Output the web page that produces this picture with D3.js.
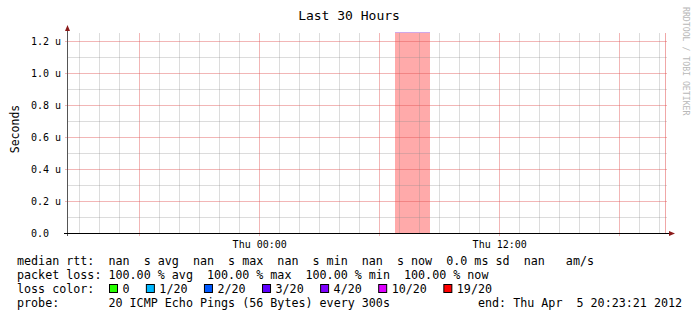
<!DOCTYPE html>
<html>
<head>
<meta charset="utf-8">
<script src="https://cdn.jsdelivr.net/npm/d3@7"></script>
<style>
  body { margin: 0; background: #fff; }
  svg text { font-family: "DejaVu Sans Mono", monospace; white-space: pre; }
</style>
</head>
<body>
<div id="chart"></div>
<script>
// chart data
let title = "Last 30 Hours";
let yLabel = "Seconds";
let startTime = new Date(2012, 3, 4, 14, 23, 21);
let endTime = new Date(2012, 3, 5, 20, 23, 21);
let yMax = 1.25e-6;
let yTicks = [0, 0.2e-6, 0.4e-6, 0.6e-6, 0.8e-6, 1.0e-6, 1.2e-6];
let outageStart = [new Date(2012, 3, 5, 6, 48)];
let outageEnd = [new Date(2012, 3, 5, 8, 33)];
let lastUpdate = new Date(2012, 3, 5, 20, 18, 21);

let rttNames = ["avg", "max", "min", "now"];
let rttValues = ["nan", "nan", "nan", "nan"];
let rttSd = "0.0 ms sd  nan   am/s";
let lossNames = ["avg", "max", "min", "now"];
let lossValues = [100, 100, 100, 100];
let lossLabels = ["0", "1/20", "2/20", "3/20", "4/20", "10/20", "19/20"];
let lossColors = ["#26ff00", "#00b8ff", "#0059ff", "#5e00ff", "#7e00ff", "#dd00ff", "#ff0000"];
let probeText = "probe:       20 ICMP Echo Pings (56 Bytes) every 300s";
let endText = "end: Thu Apr  5 20:23:21 2012";

let W = 697, H = 321;
let pL = 67, pR = 667, pT = 33, pB = 233;

let svg = d3.select('#chart')
  .append('svg')
  .attr('width', W)
  .attr('height', H)
  .style('background', '#fff');

let xS = d3.scaleTime().domain([startTime, endTime]).range([pL, pR]);
let yS = d3.scaleLinear().domain([0, yMax]).range([pB, pT]);

// outage area
svg.selectAll('rect.outage')
  .data(outageStart)
  .enter()
  .append('rect')
  .attr('class', 'outage')
  .attr('x', (d, i) => Math.round(xS(d)))
  .attr('y', pT)
  .attr('width', (d, i) => Math.round(xS(outageEnd[i])) - Math.round(xS(d)))
  .attr('height', pB - pT)
  .style('fill', '#ffaaaa');
svg.selectAll('line.outtop')
  .data(outageStart)
  .enter()
  .append('line')
  .attr('x1', d => Math.round(xS(d)))
  .attr('x2', (d, i) => Math.round(xS(outageEnd[i])))
  .attr('y1', pT - 0.5).attr('y2', pT - 0.5)
  .style('stroke', '#cfa8e8');

// grid
let minorCol = 'rgba(140,140,140,0.30)', majorCol = 'rgba(225,80,80,0.42)';
let hours = d3.timeHour.every(1).range(startTime, endTime);
svg.selectAll('line.vmin')
  .data(hours.filter(d => d.getHours() % 6 != 0))
  .enter().append('line')
  .attr('x1', d => Math.round(xS(d)) + 0.5).attr('x2', d => Math.round(xS(d)) + 0.5)
  .attr('y1', pT).attr('y2', pB)
  .style('stroke', minorCol);
svg.selectAll('line.vmaj')
  .data(hours.filter(d => d.getHours() % 6 == 0))
  .enter().append('line')
  .attr('x1', d => Math.round(xS(d)) + 0.5).attr('x2', d => Math.round(xS(d)) + 0.5)
  .attr('y1', pT).attr('y2', pB + 3)
  .style('stroke', majorCol);

let minorY = d3.range(1, 13).map(i => i * 0.1e-6).filter(v => v < yMax);
svg.selectAll('line.hmin')
  .data(minorY.filter((v, i) => i % 2 == 0))
  .enter().append('line')
  .attr('x1', pL).attr('x2', pR)
  .attr('y1', d => Math.round(yS(d)) + 0.5).attr('y2', d => Math.round(yS(d)) + 0.5)
  .style('stroke', minorCol);
svg.selectAll('line.hmaj')
  .data(yTicks.slice(1))
  .enter().append('line')
  .attr('x1', pL - 2).attr('x2', pR)
  .attr('y1', d => Math.round(yS(d)) + 0.5).attr('y2', d => Math.round(yS(d)) + 0.5)
  .style('stroke', majorCol);

// last update rule
svg.append('line')
  .attr('x1', Math.round(xS(lastUpdate)) + 0.5).attr('x2', Math.round(xS(lastUpdate)) + 0.5)
  .attr('y1', pT).attr('y2', pB)
  .style('stroke', 'rgba(225,80,80,0.5)');

// axes
svg.append('line')
  .attr('x1', pL + 0.5).attr('x2', pL + 0.5)
  .attr('y1', pB + 3).attr('y2', pT - 3)
  .style('stroke', '#555');
svg.append('line')
  .attr('x1', pL - 3).attr('x2', pR + 3)
  .attr('y1', pB + 0.5).attr('y2', pB + 0.5)
  .style('stroke', '#000');
svg.append('path')
  .attr('d', `M${pL - 2},${pT - 2} L${pL + 0.5},${pT - 8} L${pL + 3},${pT - 2} Z`)
  .style('fill', '#8b1a1a');
svg.append('path')
  .attr('d', `M${pR + 2},${pB - 2} L${pR + 8},${pB + 0.5} L${pR + 2},${pB + 3} Z`)
  .style('fill', '#8b1a1a');

// tick labels
svg.selectAll('text.ylab')
  .data(yTicks)
  .enter().append('text')
  .attr('x', 61)
  .attr('y', d => yS(d) + 3.5)
  .attr('text-anchor', 'end')
  .style('font-size', '10px')
  .text(d => (d * 1e6).toFixed(1) + (d == 0 ? '  ' : ' u'));

let fmt = d3.timeFormat('%a %H:%M');
svg.selectAll('text.xlab')
  .data(hours.filter(d => d.getHours() % 12 == 0))
  .enter().append('text')
  .attr('x', d => xS(d) + 0.5)
  .attr('y', pB + 15)
  .attr('text-anchor', 'middle')
  .style('font-size', '10px')
  .text(d => fmt(d));

// title, axis label, watermark
svg.append('text')
  .attr('x', 349).attr('y', 20)
  .attr('text-anchor', 'middle')
  .style('font-size', '13px')
  .text(title);
svg.append('text')
  .attr('transform', 'translate(19,' + 129 + ') rotate(-90)')
  .attr('text-anchor', 'middle')
  .style('font-size', '11.5px')
  .text(yLabel);
svg.append('text')
  .attr('transform', 'translate(683,7) rotate(90)')
  .style('font-size', '8.2px')
  .style('fill', '#b8b8b8')
  .text('RRDTOOL / TOBI OETIKER');

// legend
let lx = 17, fs = '11.7px', cw = 7.07;
let row1 = 'median rtt:  ' + rttValues.map((v, i) => v + '  s ' + rttNames[i]).join('  ') + '  ' + rttSd;
let row2 = 'packet loss: ' + lossValues.map((v, i) => v.toFixed(2) + ' % ' + lossNames[i]).join('  ');
[row1, row2].forEach((t, i) => {
  svg.append('text')
    .attr('x', lx).attr('y', 265 + i * 14)
    .style('font-size', fs)
    .text(t);
});
svg.append('text')
  .attr('x', lx).attr('y', 293)
  .style('font-size', fs)
  .text('loss color:');
let bx = 109;
lossLabels.forEach((lab, i) => {
  svg.append('rect')
    .attr('x', bx + 0.5).attr('y', 284.5)
    .attr('width', 8).attr('height', 8)
    .style('fill', lossColors[i])
    .style('stroke', '#000');
  svg.append('text')
    .attr('x', bx + 13.5).attr('y', 293)
    .style('font-size', fs)
    .text(lab);
  bx = bx + 13.5 + lab.length * cw + 16.3;
});
svg.append('text')
  .attr('x', lx).attr('y', 307)
  .style('font-size', fs)
  .text(probeText);
svg.append('text')
  .attr('x', 478).attr('y', 307)
  .style('font-size', fs)
  .text(endText);
</script>
</body>
</html>
